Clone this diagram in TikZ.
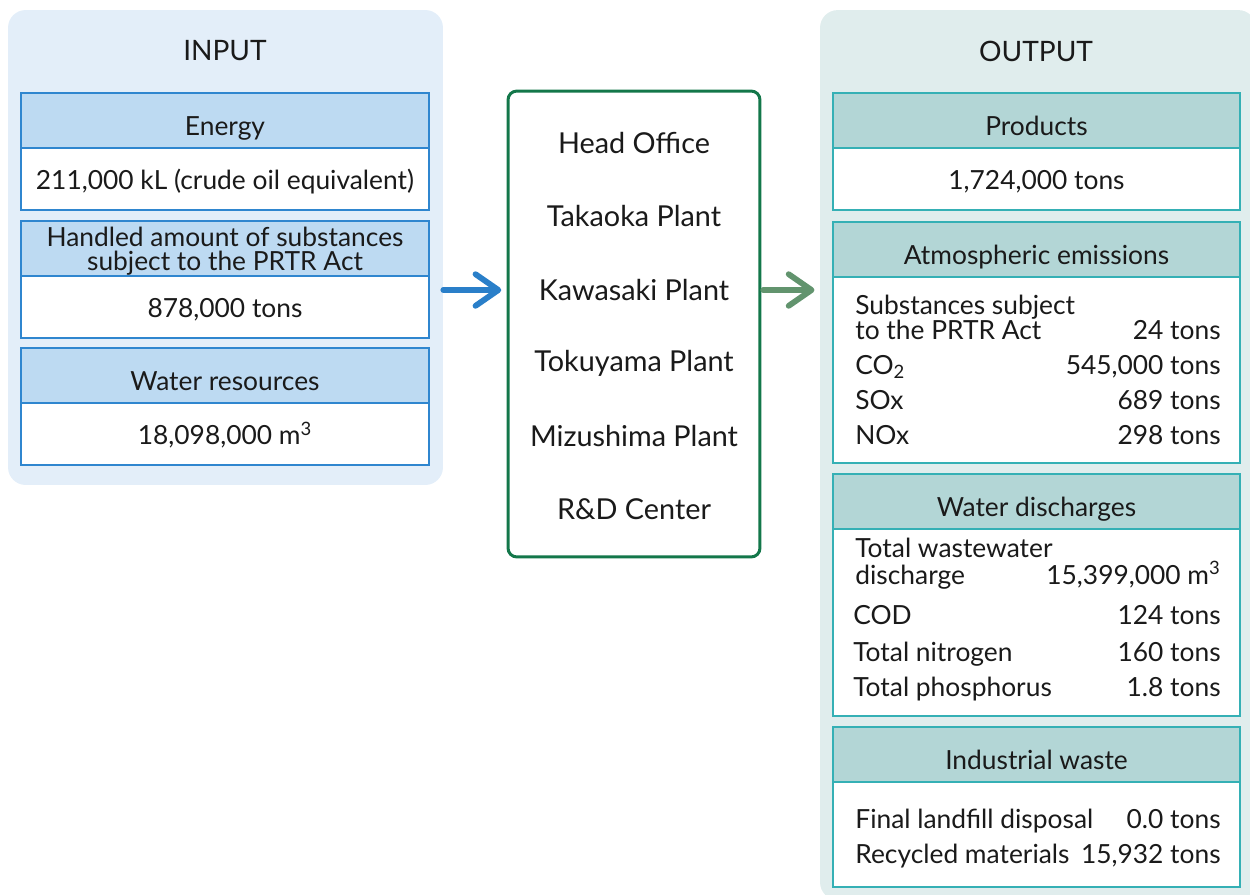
\documentclass[tikz,border=0pt]{standalone}
\usepackage{fontspec}
\setmainfont{Lato}
\usetikzlibrary{arrows.meta}
\definecolor{inbg}{HTML}{E3EEF9}
\definecolor{inhdr}{HTML}{BDDAF2}
\definecolor{inline}{HTML}{2F86CF}
\definecolor{inarrow}{HTML}{2A7FC9}
\definecolor{outbg}{HTML}{E0EDED}
\definecolor{outhdr}{HTML}{B3D6D6}
\definecolor{outline}{HTML}{35B0B5}
\definecolor{outarrow}{HTML}{62946E}
\definecolor{plantgreen}{HTML}{13774A}
\definecolor{ink}{HTML}{1A1A1A}
\begin{document}
\begin{tikzpicture}[x=0.02cm,y=-0.02cm,
  every node/.style={inner sep=0pt,text=ink,font=\fontsize{15}{17}\selectfont},
  panel/.style={rounded corners=10pt,inner sep=0pt},
  title/.style={font=\fontsize{16}{18}\selectfont},
  plant/.style={font=\fontsize{16.4}{19}\selectfont},
  incell/.style={draw=inline,line width=1.1pt,minimum width=8.16cm,align=center},
  outcell/.style={draw=outline,line width=1.1pt,minimum width=8.14cm,align=center},
  hdr/.style={minimum height=1.1cm,text height=16.5pt,text depth=0pt},
  body/.style={fill=white,minimum height=1.24cm,text height=12.5pt,text depth=0pt},
  flow/.style={line width=3.3pt,line cap=round,-{Straight Barb[length=13pt,width=18pt,round]}},
  lbl/.style={anchor=base west},
  val/.style={anchor=base east}]
\useasboundingbox (0,0) rectangle (1250,894);
\node[panel,fill=inbg,minimum width=8.7cm,minimum height=9.5cm] (inpanel) at (225.5,247.5) {};
\node[panel,fill=outbg,minimum width=8.72cm,minimum height=17.8cm] (outpanel) at (1038,455) {};
\node[title] (intitle) at (225,51) {INPUT};
\node[title] (outtitle) at (1036,51) {OUTPUT};
\node[incell,hdr,fill=inhdr] (energyh) at (225,120.5) {Energy};
\node[incell,body] (energyv) at (225,179) {211,000 kL (crude oil equivalent)};
\node[incell,fill=inhdr,minimum height=1.1cm] (prtrh) at (225,248.5) {};
\node[align=center,font=\fontsize{15}{13.6}\selectfont] (prtrt) at (225,251) {Handled amount of substances\\subject to the PRTR Act};
\node[incell,body] (prtrv) at (225,307) {878,000 tons};
\node[incell,hdr,fill=inhdr] (waterh) at (225,375.5) {Water resources};
\node[incell,body] (waterv) at (225,434) {18,098,000 m\textsuperscript{3}};
\node[draw=plantgreen,line width=1.7pt,rounded corners=5pt,fill=white,minimum width=5.04cm,minimum height=9.32cm] (plants) at (634,324) {};
\node[plant] (headoffice) at (634,143) {Head Office};
\node[plant] (takaoka) at (634,216) {Takaoka Plant};
\node[plant] (kawasaki) at (634,290) {Kawasaki Plant};
\node[plant] (tokuyama) at (634,363) {Tokuyama Plant};
\node[plant] (mizushima) at (634,436) {Mizushima Plant};
\node[plant] (rdcenter) at (634,509) {R\&D Center};
\draw[flow,inarrow,shorten >=3pt] (inpanel.east |- kawasaki) -- (plants.west |- kawasaki);
\draw[flow,outarrow,shorten <=1pt,shorten >=3pt] (plants.east |- kawasaki) -- (outpanel.west |- kawasaki);
\node[outcell,hdr,fill=outhdr] (prodh) at (1036.5,120.5) {Products};
\node[outcell,body] (prodv) at (1036.5,179) {1,724,000 tons};
\node[outcell,hdr,fill=outhdr] (airh) at (1036.5,249.5) {Atmospheric emissions};
\node[outcell,fill=white,minimum height=3.72cm] (airv) at (1036.5,370) {};
\node[outcell,hdr,fill=outhdr] (dischh) at (1036.5,501.5) {Water discharges};
\node[outcell,fill=white,minimum height=3.74cm] (dischv) at (1036.5,622.5) {};
\node[outcell,hdr,fill=outhdr] (wasteh) at (1036.5,754.5) {Industrial waste};
\node[outcell,fill=white,minimum height=2.1cm] (wastev) at (1036.5,834.5) {};
\node[lbl] (subst) at (855,314) {Substances subject};
\node[lbl] (substb) at (855,339) {to the PRTR Act};
\node[val] (substv) at (1221,339) {24 tons};
\node[lbl] (co) at (855,374) {CO\textsubscript{2}};
\node[val] (cov) at (1221,374) {545,000 tons};
\node[lbl] (sox) at (855,409) {SOx};
\node[val] (soxv) at (1221,409) {689 tons};
\node[lbl] (nox) at (855,444) {NOx};
\node[val] (noxv) at (1221,444) {298 tons};
\node[lbl] (totww) at (855,557) {Total wastewater};
\node[lbl] (totwwb) at (855,584) {discharge};
\node[val] (totwwv) at (1221,584) {15,399,000 m\textsuperscript{3}};
\node[lbl] (cod) at (853,624) {COD};
\node[val] (codv) at (1221,624) {124 tons};
\node[lbl] (nitro) at (853,661) {Total nitrogen};
\node[val] (nitrov) at (1221,661) {160 tons};
\node[lbl] (phos) at (853,696) {Total phosphorus};
\node[val] (phosv) at (1221,696) {1.8 tons};
\node[lbl] (landfill) at (855,828) {Final landfill disposal};
\node[val] (landfillv) at (1221,828) {0.0 tons};
\node[lbl] (recyc) at (855,863) {Recycled materials};
\node[val] (recycv) at (1221,863) {15,932 tons};
\end{tikzpicture}
\end{document}
